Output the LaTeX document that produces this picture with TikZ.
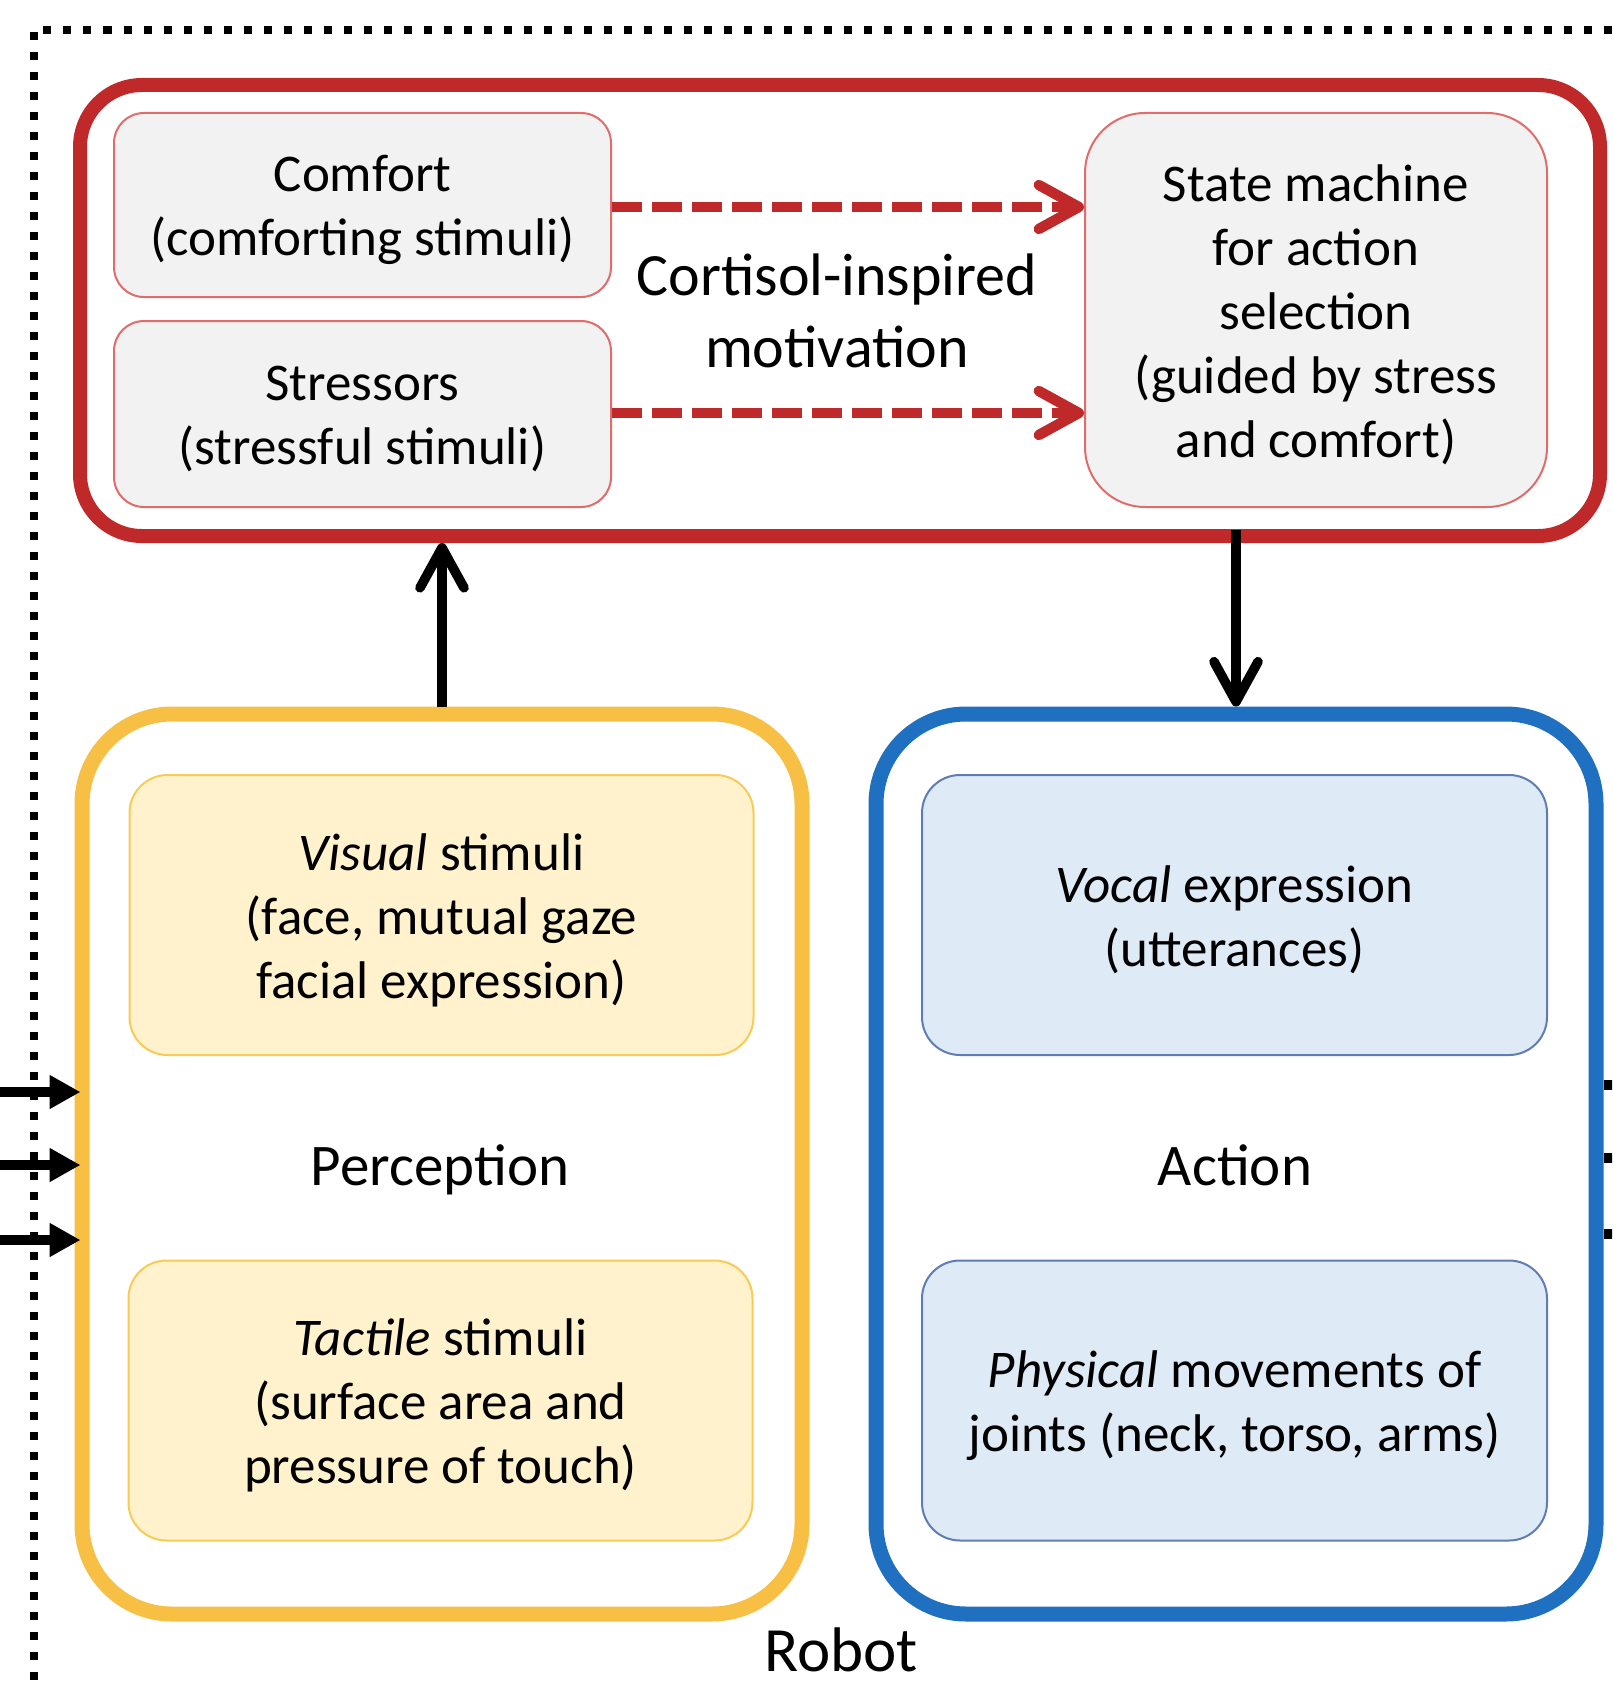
\documentclass[tikz,border=0pt]{standalone}
\usepackage{fontspec}
\setmainfont{Carlito}
\usetikzlibrary{arrows.meta}
\definecolor{redmain}{HTML}{C0292A}
\definecolor{redlight}{HTML}{E06C6C}
\definecolor{greyfill}{HTML}{F2F2F2}
\definecolor{yelmain}{HTML}{F8BF45}
\definecolor{yelfill}{HTML}{FFF2CC}
\definecolor{yelline}{HTML}{F7CB55}
\definecolor{bluemain}{HTML}{1F70C1}
\definecolor{bluefill}{HTML}{DEEAF6}
\definecolor{blueline}{HTML}{5F7DB3}
\tikzset{
  boxtext/.style={font=\fontsize{26.5pt}{32pt}\selectfont, align=center, inner sep=0pt, yshift=-2.6pt},
  greybox/.style={draw=redlight, fill=greyfill, line width=1pt, inner sep=0pt},
  yelbox/.style={draw=yelline, fill=yelfill, line width=1pt, rounded corners=19pt,
    minimum width=312pt, minimum height=140pt, inner sep=0pt},
  bluebox/.style={draw=blueline, fill=bluefill, line width=1pt, rounded corners=19pt,
    minimum width=312.5pt, minimum height=140pt, inner sep=0pt},
  bigbox/.style={line width=7.5pt, rounded corners=45pt, minimum width=360pt, minimum height=450pt, inner sep=0pt},
  dashedarrow/.style={draw=redmain, line width=5.2pt, dash pattern=on 15pt off 5pt,
    -{Straight Barb[length=20pt,width=22pt,round]}},
  blackarrow/.style={draw=black, line width=4.8pt, -{Straight Barb[length=20pt,width=22pt,round]}},
  inarrow/.style={draw=black, line width=5pt, -{Triangle[length=15.5pt,width=16pt]}, shorten >=-3pt},
  outtick/.style={draw=black, line width=5pt},
  labeltext/.style={font=\fontsize{29.5pt}{36pt}\selectfont, align=center, inner sep=0pt, anchor=base},
}
\begin{document}
\begin{tikzpicture}[x=0.5pt,y=-0.5pt]
\useasboundingbox (0,0) rectangle (1612,1691);
\clip (0,0) rectangle (1612,1691);
\fill[white] (0,0) rectangle (1612,1691);

% dotted robot border
\coordinate (dA) at (33.5,1720);
\coordinate (dB) at (33.5,30);
\coordinate (dC) at (1640,30);
\draw[line width=4pt, dash pattern=on 4pt off 6pt] (dA) -- (dB) -- (dC);

% motivation block
\node[draw=redmain, line width=7pt, rounded corners=31pt, minimum width=760pt, minimum height=225.5pt, inner sep=0pt] (red) at (840,310.5) {};
\node[greybox, rounded corners=15pt, minimum width=248.5pt, minimum height=92pt] (comfort) at (362.5,205) {};
\node[boxtext] (comforttxt) at (comfort.center) {Comfort\\(comforting stimuli)};
\node[greybox, rounded corners=15pt, minimum width=248.5pt, minimum height=93pt] (stress) at (362.5,414) {};
\node[boxtext] (stresstxt) at (stress.center) {Stressors\\(stressful stimuli)};
\node[greybox, rounded corners=30pt, minimum width=231pt, minimum height=197pt] (state) at (1316,310) {};
\node[boxtext] (statetxt) at (state.center) {State machine\\for action\\selection\\(guided by stress\\and comfort)};
\node[font=\fontsize{30pt}{36pt}\selectfont, align=center, inner sep=0pt] (cort) at (837,311) {Cortisol-inspired\\motivation};
\draw[dashedarrow] (comfort.east |- 0,207) -- (state.west |- 0,207);
\draw[dashedarrow] (stress.east |- 0,413) -- (state.west |- 0,413);

% perception
\node[bigbox, draw=yelmain] (perc) at (442,1164) {};
\node[yelbox] (visual) at (441.5,915) {};
\node[boxtext] (visualtxt) at (visual.center) {\textit{Visual} stimuli\\(face, mutual gaze\\facial expression)};
\node[yelbox] (tactile) at (440.5,1400.5) {};
\node[boxtext] (tactiletxt) at (tactile.center) {\textit{Tactile} stimuli\\(surface area and\\pressure of touch)};
\node[labeltext] (perclabel) at (440,1185) {Perception};

% action
\node[bigbox, draw=bluemain] (act) at (1236,1164) {};
\node[bluebox] (vocal) at (1234.5,915) {};
\node[boxtext] (vocaltxt) at (vocal.center) {\textit{Vocal} expression\\(utterances)};
\node[bluebox] (phys) at (1234.5,1400.5) {};
\node[boxtext] (phystxt) at (phys.center) {\textit{Physical} movements of\\joints (neck, torso, arms)};
\node[labeltext] (actlabel) at (1235,1185) {Action};

\node[font=\fontsize{31.5pt}{36pt}\selectfont, inner sep=0pt] (robot) at (841,1650) {Robot};

% vertical arrows
\draw[blackarrow] (perc.north) -- (perc.north |- red.south);
\draw[blackarrow] (act.north |- 0,530) -- (act.north);

% input arrows
\coordinate (in1) at (-20,1092);
\coordinate (in2) at (-20,1165);
\coordinate (in3) at (-20,1240);
\draw[inarrow] (in1) -- (in1 -| perc.west);
\draw[inarrow] (in2) -- (in2 -| perc.west);
\draw[inarrow] (in3) -- (in3 -| perc.west);

% output ticks
\coordinate (out1) at (1640,1085);
\coordinate (out2) at (1640,1158);
\coordinate (out3) at (1640,1234);
\draw[outtick] (out1 -| act.east) -- (out1);
\draw[outtick] (out2 -| act.east) -- (out2);
\draw[outtick] (out3 -| act.east) -- (out3);
\end{tikzpicture}
\end{document}
